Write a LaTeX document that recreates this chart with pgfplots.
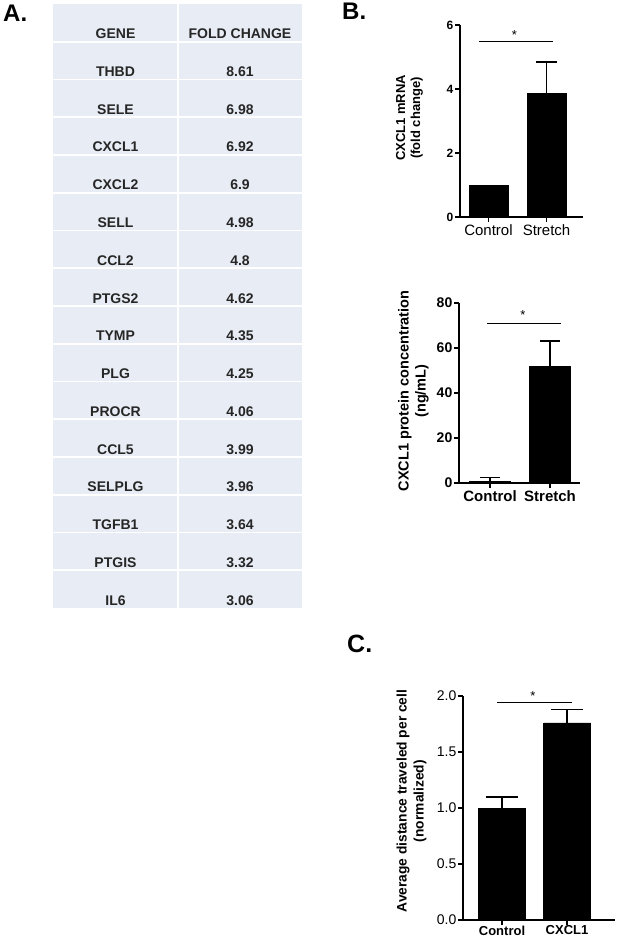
\documentclass[border=0pt]{standalone}
\usepackage{fontspec}
\setmainfont{Liberation Sans}
\usepackage{pgfplots}
\pgfplotsset{compat=1.18}
\definecolor{tbl}{HTML}{E8ECF4}
\definecolor{tbltxt}{HTML}{262626}
\newcommand{\fs}[2]{\fontsize{#1}{#2}\selectfont}
\pgfplotsset{
  gp/.style={
    scale only axis,
    axis lines=left,
    axis line style={line width=1.6pt,-,black},
    tick style={line width=1.6pt,black},
    tick align=outside,
    major tick length=5pt,
    ybar,
    ymin=0,
    xtick={0,1},
    clip=false,
    yticklabel style={inner sep=1.5pt},
    xticklabel style={inner sep=2pt},
  }
}
\begin{document}
\begin{tikzpicture}
\useasboundingbox (0pt,0pt) rectangle (617pt,-941pt);
\begin{scope}[x=1pt,y=1pt]
% ---- Panel A table ----
\fill[tbl] (53,-4) rectangle (302,-608);
\foreach \k in {1,...,15}
  \draw[white,line width=1.6pt] (53,{-4-37.75*\k}) -- (302,{-4-37.75*\k});
\draw[white,line width=1.6pt] (178,-4) -- (178,-608);
\foreach \g/\v [count=\i from 1] in {GENE/FOLD CHANGE,THBD/8.61,SELE/6.98,CXCL1/6.92,CXCL2/6.9,SELL/4.98,CCL2/4.8,PTGS2/4.62,TYMP/4.35,PLG/4.25,PROCR/4.06,CCL5/3.99,SELPLG/3.96,TGFB1/3.64,PTGIS/3.32,IL6/3.06}{
  \node[anchor=base,inner sep=0,font=\fs{14}{16}\bfseries,text=tbltxt] at (115.5,{-4-37.75*\i+3}) {\g};
  \node[anchor=base,inner sep=0,font=\fs{14}{16}\bfseries,text=tbltxt] at (240,{-4-37.75*\i+3}) {\v};
}
% ---- panel letters ----
\node[anchor=base west,inner sep=0,font=\fs{24}{28}\bfseries] at (3,-22) {A.};
\node[anchor=base west,inner sep=0,font=\fs{24}{28}\bfseries] at (342,-20) {B.};
\node[anchor=base west,inner sep=0,font=\fs{25}{28}\bfseries] at (347,-652) {C.};
% ---- y labels ----
\node[rotate=90,align=center,font=\fs{13}{15}\bfseries] at (409.5,-118) {CXCL1 mRNA\\(fold change)};
\node[rotate=90,align=center,font=\fs{14.5}{17}\bfseries] at (413.5,-391) {CXCL1 protein concentration\\(ng/mL)};
\node[rotate=90,align=center,font=\fs{13.8}{17}\bfseries] at (411.5,-801) {Average distance traveled per cell\\(normalized)};
\end{scope}

% ---- B top ----
\begin{axis}[gp, at={(460pt,-217pt)}, anchor=south west,
  width=123pt, height=192pt,
  xmin=-0.491, xmax=1.629, ymax=6,
  ytick={0,2,4,6}, yticklabels={0,2,4,6},
  yticklabel style={font=\fs{12}{14}\bfseries},
  xticklabels={Control,Stretch},
  xticklabel style={font=\fs{15}{17}}]
\addplot[fill=black,draw=black,bar width=39pt,bar shift=0pt]
  coordinates {(0,1.00)};
\addplot[fill=black,draw=black,bar width=39pt,bar shift=0pt,
  error bars/.cd, y dir=plus, y explicit,
  error bar style={line width=1.6pt,black},
  error mark options={rotate=90,line width=1.6pt,black,mark size=10.5pt}]
  table[x=x,y=y,y error=e]{
  x y e
  1 3.88 0.97
};
\draw[line width=1pt] (axis cs:-0.164,5.47) -- (axis cs:1.112,5.47);
\node[anchor=base,inner sep=0,font=\fs{13}{15}] at (axis cs:0.445,5.55) {*};
\end{axis}

% ---- B bottom ----
\begin{axis}[gp, at={(459pt,-483pt)}, anchor=south west,
  width=121pt, height=180pt,
  xmin=-0.517, xmax=1.5, ymax=80,
  ytick={0,20,40,60,80}, yticklabels={0,20,40,60,80},
  yticklabel style={font=\fs{14}{16}\bfseries},
  xticklabels={Control,Stretch},
  xticklabel style={font=\fs{15}{17}\bfseries}]
\addplot[fill=black,draw=black,bar width=41pt,
  error bars/.cd, y dir=plus, y explicit,
  error bar style={line width=1.6pt,black},
  error mark options={rotate=90,line width=1.6pt,black,mark size=10pt}]
  table[x=x,y=y,y error=e]{
  x y e
  0 0.7 1.8
  1 52.0 11.2
};
\draw[line width=1pt] (axis cs:-0.05,71.1) -- (axis cs:1.183,71.1);
\node[anchor=base,inner sep=0,font=\fs{13}{15}] at (axis cs:0.55,72.7) {*};
\end{axis}

% ---- C ----
\begin{axis}[gp, at={(463pt,-920pt)}, anchor=south west,
  width=152pt, height=224pt,
  xmin=-0.6, xmax=1.738, ymax=2,
  ytick={0,0.5,1,1.5,2}, yticklabels={0.0,0.5,1.0,1.5,2.0},
  yticklabel style={font=\fs{14}{16}},
  xticklabels={Control,CXCL1},
  xticklabel style={font=\fs{13}{15}\bfseries,inner sep=0.5pt}]
\addplot[fill=black,draw=black,bar width=47pt,
  error bars/.cd, y dir=plus, y explicit,
  error bar style={line width=1.6pt,black},
  error mark options={rotate=90,line width=1.6pt,black,mark size=16pt}]
  table[x=x,y=y,y error=e]{
  x y e
  0 1.00 0.10
  1 1.76 0.12
};
\draw[line width=1pt] (axis cs:-0.077,1.946) -- (axis cs:1.077,1.946);
\node[anchor=base,inner sep=0,font=\fs{13}{15}] at (axis cs:0.477,1.96) {*};
\end{axis}
\end{tikzpicture}
\end{document}
